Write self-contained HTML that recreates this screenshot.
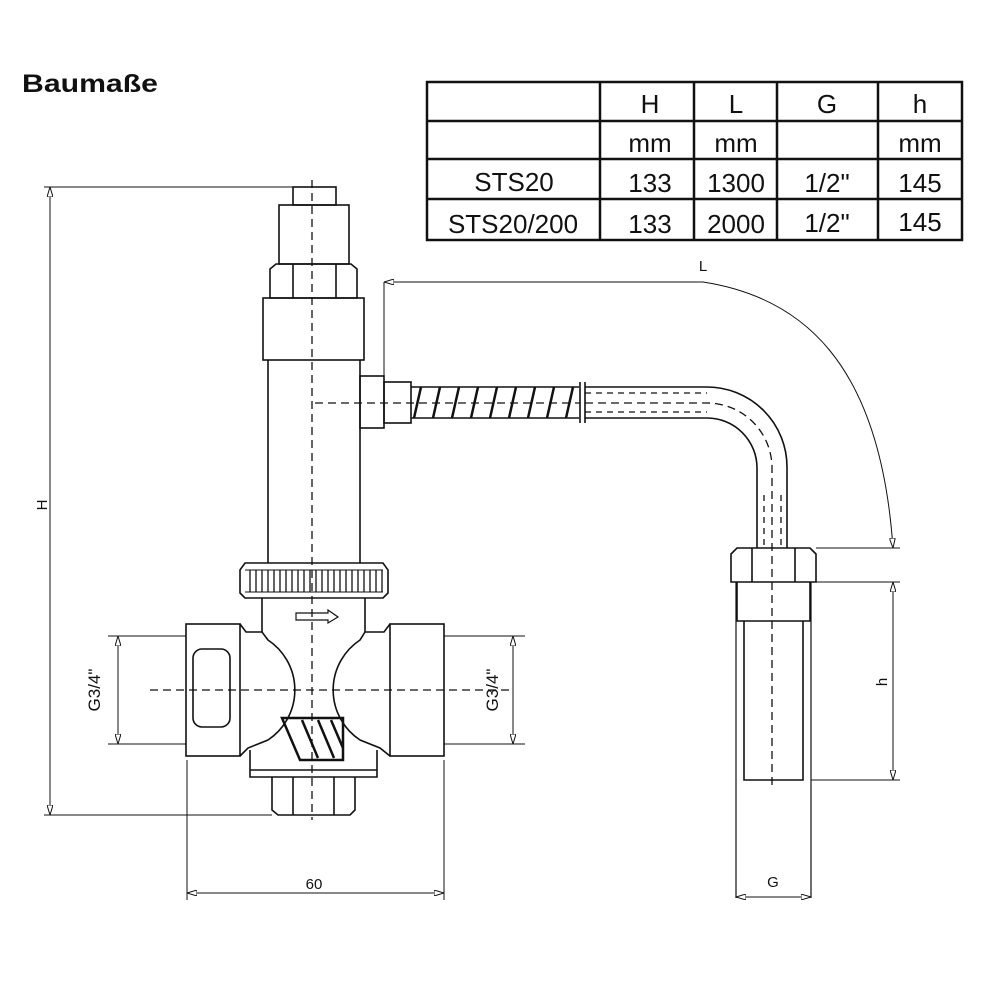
<!DOCTYPE html>
<html><head><style>body{margin:0;background:#fff}svg{display:block}text{font-family:"Liberation Sans",sans-serif;fill:#111}</style></head>
<body>
<svg width="1000" height="1000" viewBox="0 0 1000 1000" xmlns="http://www.w3.org/2000/svg">
<defs>
<marker id="a" viewBox="0 0 10 6" refX="10" refY="3" markerWidth="10" markerHeight="6" orient="auto-start-reverse" markerUnits="userSpaceOnUse"><path d="M0,0L10,3L0,6z" fill="#fff" stroke="#111" stroke-width="1"/></marker>
</defs>
<text x="22" y="92" font-size="25" font-weight="bold" textLength="136" lengthAdjust="spacingAndGlyphs">Baumaße</text>
<g stroke="#111" stroke-width="2.5" fill="none">
<rect x="427" y="82" width="535" height="158"/>
<path d="M600 82V240M694 82V240M777 82V240M878 82V240M427 121H962M427 159H962M427 199H962"/>
</g>
<g font-size="26" text-anchor="middle">
<text x="650" y="113">H</text><text x="736" y="113">L</text><text x="827" y="113">G</text><text x="920" y="113">h</text>
<text x="650" y="152">mm</text><text x="736" y="152">mm</text><text x="920" y="152">mm</text>
<text x="514" y="191">STS20</text><text x="650" y="192">133</text><text x="736" y="192">1300</text><text x="827" y="192">1/2"</text><text x="920" y="192">145</text>
<text x="513" y="233">STS20/200</text><text x="650" y="233">133</text><text x="736" y="233">2000</text><text x="827" y="232">1/2"</text><text x="920" y="231">145</text>
</g>
<g stroke="#111" stroke-width="1.6" fill="none">
<rect x="293" y="187" width="43" height="18"/>
<rect x="279" y="205" width="70" height="59"/>
<path d="M270 298V269L276 264H351L357 269V298Z"/>
<path d="M293 264V298M336 264V298"/>
<rect x="263" y="298" width="101" height="62"/>
<path d="M268 360V563M360 360V563"/>
<rect x="360" y="376" width="24" height="52"/>
<rect x="384" y="382" width="27" height="41"/>
<path d="M411 387H579M411 418H579"/>
<path d="M414 418L421 387M433 418L440 387M452 418L459 387M471 418L478 387M490 418L497 387M509 418L516 387M528 418L535 387M547 418L554 387M566 418L573 387" stroke-width="2.5"/>
<path d="M580 382V423M585 382V423"/>
<path d="M585 387H707A80 80 0 0 1 787 467V548"/>
<path d="M585 418H707A50 50 0 0 1 757 468V548"/>
<!-- valve -->
<path d="M240 570L245 563H383L388 570V593L383 598H245L240 593Z"/>
<path d="M245 570H383M245 592H383" stroke-width="1"/>
<path d="M250 570V592M256 570V592M262 570V592M268 570V592M274 570V592M280 570V592M286 570V592M292 570V592M298 570V592M304 570V592M310 570V592M316 570V592M322 570V592M328 570V592M334 570V592M340 570V592M346 570V592M352 570V592M358 570V592M364 570V592M370 570V592M376 570V592M382 570V592" stroke-width="1.3"/>
<path d="M262 598V632M365 598V632"/>
<path d="M296 613H328V610L338 617L328 623V620H296Z" stroke-width="1.2"/>
<rect x="186" y="624" width="54" height="132"/>
<rect x="390" y="624" width="54" height="132"/>
<rect x="193" y="649" width="37" height="78" rx="9"/>
<path d="M240 624L246 632H262L268 640A60 60 0 0 1 268 740L248 748L240 756"/>
<path d="M390 624L384 632H365L360 640A60 60 0 0 0 360 740L380 748L390 756"/>
<path d="M250 750V777H377V750M250 770H377"/>
<path d="M272 777V810L278 815H350L355 810V777M293 777V815M334 777V815"/>
<path d="M282 718H343V760H300Z" stroke-width="2.5"/>
<path d="M302 720L318 758M318 720L334 758M331 720L343 748" stroke-width="2.5"/>
<!-- right fitting -->
<path d="M731 582V554L737 548H810L816 554V582Z"/>
<path d="M752 548V582M795 548V582"/>
<path d="M737 582V621H810V582"/>
<path d="M744 621V780H803V621"/>
<path d="M736 582V898M811 582V898" stroke-width="1.2"/>
</g>
<g stroke="#111" stroke-width="1.3" fill="none" stroke-dasharray="8,5">
<path d="M312 180V820"/>
<path d="M150 690H510"/>
<path d="M315 403H580"/>
<path d="M585 403H707A65 65 0 0 1 772 468V790"/>
<path d="M585 393H707M585 412H707" stroke-dasharray="6,5"/>
<path d="M764 495V548M781 495V548" stroke-dasharray="6,5"/>
</g>
<g stroke="#111" stroke-width="1" fill="none">
<path d="M44 187H293M44 815H272"/>
<path d="M50 187V815" marker-start="url(#a)" marker-end="url(#a)"/>
<path d="M108 636H186M108 744H186M444 636H525M444 744H525"/>
<path d="M118 636V744" marker-start="url(#a)" marker-end="url(#a)"/>
<path d="M513 636V744" marker-start="url(#a)" marker-end="url(#a)"/>
<path d="M187 760V900M444 760V900"/>
<path d="M187 893H444" marker-start="url(#a)" marker-end="url(#a)"/>
<path d="M384 282V382"/>
<path d="M384 282H703" marker-start="url(#a)"/>
<path d="M703 282C800 297 880 360 893 548" marker-end="url(#a)"/>
<path d="M816 548H900M816 582H900M811 780H900"/>
<path d="M893 582V780" marker-start="url(#a)" marker-end="url(#a)"/>
<path d="M736 897H811" marker-start="url(#a)" marker-end="url(#a)"/>
</g>
<g font-size="15">
<text x="47" y="505" transform="rotate(-90 47 505)" text-anchor="middle">H</text>
<text x="100" y="690" transform="rotate(-90 100 690)" text-anchor="middle" font-size="17">G3/4"</text>
<text x="498" y="690" transform="rotate(-90 498 690)" text-anchor="middle" font-size="17">G3/4"</text>
<text x="314" y="889" text-anchor="middle">60</text>
<text x="703" y="271" text-anchor="middle">L</text>
<text x="887" y="682" transform="rotate(-90 887 682)" text-anchor="middle">h</text>
<text x="773" y="887" text-anchor="middle">G</text>
</g>
</svg>
</body></html>
